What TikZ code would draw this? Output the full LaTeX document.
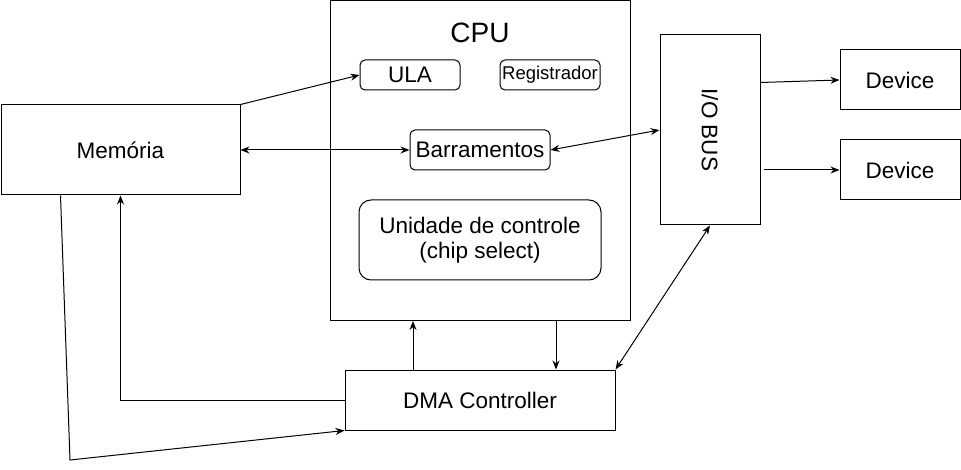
\documentclass[tikz,border=0pt]{standalone}
\usepackage{fontspec}
\setmainfont{Liberation Sans}
\usetikzlibrary{arrows.meta}
\begin{document}
\begin{tikzpicture}[x=1pt,y=-1pt,line width=1pt]
\tikzstyle{box}=[draw,inner sep=0pt,font=\fontsize{22.5}{25}\selectfont,align=center]
\tikzstyle{rbox}=[box,rounded corners=5pt]
\tikzstyle{arr}=[-{Stealth[length=9pt,width=7pt]}]
\tikzstyle{darr}=[{Stealth[length=9pt,width=7pt]}-{Stealth[length=9pt,width=7pt]}]
\useasboundingbox (0,0) rectangle (961,470);
\node[box,minimum width=239pt,minimum height=90pt] (mem) at (120.5,150) {Mem\'oria};
\node[box,minimum width=300pt,minimum height=320pt] (cpu) at (480,160.5) {};
\node[font=\fontsize{28}{32}\selectfont] (cputitle) at (480,33) {CPU};
\node[rbox,minimum width=100pt,minimum height=30pt] (ula) at (410,75) {ULA};
\node[rbox,minimum width=100pt,minimum height=30pt,font=\fontsize{18.5}{21}\selectfont] (reg) at (550,75) {Registrador};
\node[rbox,minimum width=140pt,minimum height=40pt] (bar) at (480,150) {Barramentos};
\node[rbox,minimum width=242pt,minimum height=80pt,rounded corners=12pt] (uc) at (480,240) {Unidade de controle\\(chip select)};
\node[box,minimum width=100pt,minimum height=190pt] (io) at (710,130) {};
\node[rotate=-90,font=\fontsize{22.5}{25}\selectfont] (iotext) at (710,130) {I/O BUS};
\node[box,minimum width=120pt,minimum height=60pt] (dev1) at (900,80) {Device};
\node[box,minimum width=120pt,minimum height=60pt] (dev2) at (900,170) {Device};
\node[box,minimum width=270pt,minimum height=60pt] (dma) at (480,400) {DMA Controller};
\coordinate (bend) at (70,460);
% ligacoes
\draw[arr] (mem.north east) -- (ula.west);
\draw[darr] (mem.east) -- (bar.west);
\draw[darr] (bar.east) -- (io.west);
\draw[arr] ([yshift=-48pt]io.north east) -- (dev1.west);
\draw[arr] ([xshift=3pt]io.east |- dev2.west) -- (dev2.west);
\draw[arr] ([xshift=-67pt]dma.north) -- ([xshift=-67pt]cpu.south);
\draw[arr] ([xshift=76pt]cpu.south) -- ([xshift=76pt]dma.north);
\draw[darr] (dma.north east) -- (io.south);
\draw[arr] (dma.west) -| (mem.south);
\draw[arr] ([xshift=-60pt]mem.south) -- (bend) -- (dma.south west);
\end{tikzpicture}
\end{document}
